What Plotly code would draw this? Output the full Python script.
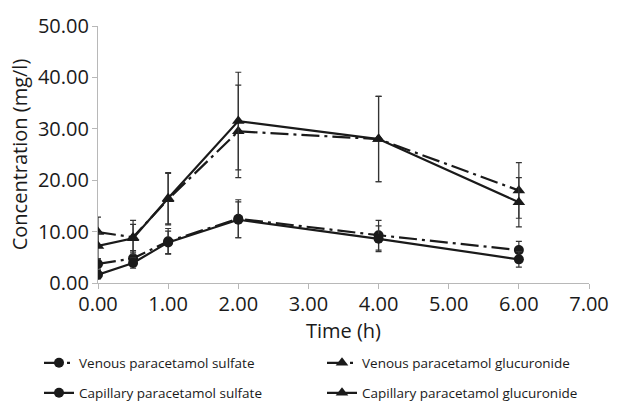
import plotly.graph_objects as go

time_h = [0.0, 0.5, 1.0, 2.0, 4.0, 6.0]

venous_sulfate = [3.7, 4.8, 8.1, 12.5, 9.3, 6.4]
venous_sulfate_err = [1.0, 1.5, 2.5, 3.7, 2.9, 1.7]
capillary_sulfate = [1.6, 3.9, 7.9, 12.3, 8.6, 4.6]
capillary_sulfate_err = [0.8, 1.0, 2.2, 3.5, 2.5, 1.5]

venous_glucuronide = [9.9, 8.9, 16.3, 29.5, 28.0, 18.0]
venous_glucuronide_err = [2.9, 3.3, 5.0, 9.0, 8.3, 5.4]
capillary_glucuronide = [7.2, 8.7, 16.5, 31.5, 28.0, 15.7]
capillary_glucuronide_err = [2.5, 2.7, 5.0, 9.5, 8.3, 4.8]

series_names = [
    "Venous paracetamol sulfate",
    "Venous paracetamol glucuronide",
    "Capillary paracetamol sulfate",
    "Capillary paracetamol glucuronide",
]

x_ticks = [0, 1, 2, 3, 4, 5, 6, 7]
y_ticks = [0, 10, 20, 30, 40, 50]

DASHDOT = "18px,5px,3px,5px"
INK = "#1a1a1a"
FONT = "Open Sans, Noto Sans, sans-serif"
W, H = 621, 403

fig = go.Figure()

def add(name, y, err, symbol, dash, legend):
    fig.add_trace(go.Scatter(
        x=time_h, y=y, name=name, mode="lines+markers",
        line=dict(color=INK, width=2.2, dash=dash),
        marker=dict(symbol=symbol, size=10 if symbol == "circle" else 11, color=INK),
        error_y=dict(type="data", array=err, visible=True, color="#333333", thickness=1.2, width=3),
        legend=legend,
    ))

add(series_names[0], venous_sulfate, venous_sulfate_err, "circle", DASHDOT, "legend")
add(series_names[1], venous_glucuronide, venous_glucuronide_err, "triangle-up", DASHDOT, "legend2")
add(series_names[2], capillary_sulfate, capillary_sulfate_err, "circle", "solid", "legend3")
add(series_names[3], capillary_glucuronide, capillary_glucuronide_err, "triangle-up", "solid", "legend4")


def leg(px_x, px_y):
    return dict(
        orientation="h", xref="container", yref="container",
        xanchor="left", yanchor="middle", x=px_x / W, y=1 - px_y / H,
        font=dict(family=FONT, size=13.5, color=INK),
        itemwidth=30, bgcolor="rgba(0,0,0,0)", borderwidth=0,
    )

fig.update_layout(
    width=W, height=H,
    margin=dict(l=98, r=28, t=24, b=120),
    paper_bgcolor="white", plot_bgcolor="white",
    font=dict(family=FONT, color=INK),
    showlegend=True,
    legend=leg(39, 363),
    legend2=leg(322, 363),
    legend3=leg(39, 393),
    legend4=leg(322, 393),
    xaxis=dict(
        range=[0, 7], tickvals=x_ticks, ticktext=[f"{v:.2f}" for v in x_ticks],
        showgrid=False, zeroline=False, showline=True, linecolor="#b8b8b8", linewidth=1.2,
        ticks="outside", ticklen=5, tickcolor="#b8b8b8", ticklabelstandoff=-2,
        tickfont=dict(size=20, family=FONT, color=INK),
        title=dict(text="Time (h)", font=dict(size=20, family=FONT, color=INK), standoff=0),
    ),
    yaxis=dict(
        range=[0, 50], tickvals=y_ticks, ticktext=[f"{v:.2f}" for v in y_ticks],
        showgrid=False, zeroline=False, showline=True, linecolor="#b8b8b8", linewidth=1.2,
        ticks="outside", ticklen=5, tickcolor="#b8b8b8", ticklabelstandoff=-1,
        tickfont=dict(size=20, family=FONT, color=INK),
        title=dict(text="Concentration (mg/l)", font=dict(size=20, family=FONT, color=INK), standoff=4),
    ),
)

fig.write_html(
    "out.html",
    config={"displayModeBar": False},
    post_script="document.body.style.margin='0px';",
)
